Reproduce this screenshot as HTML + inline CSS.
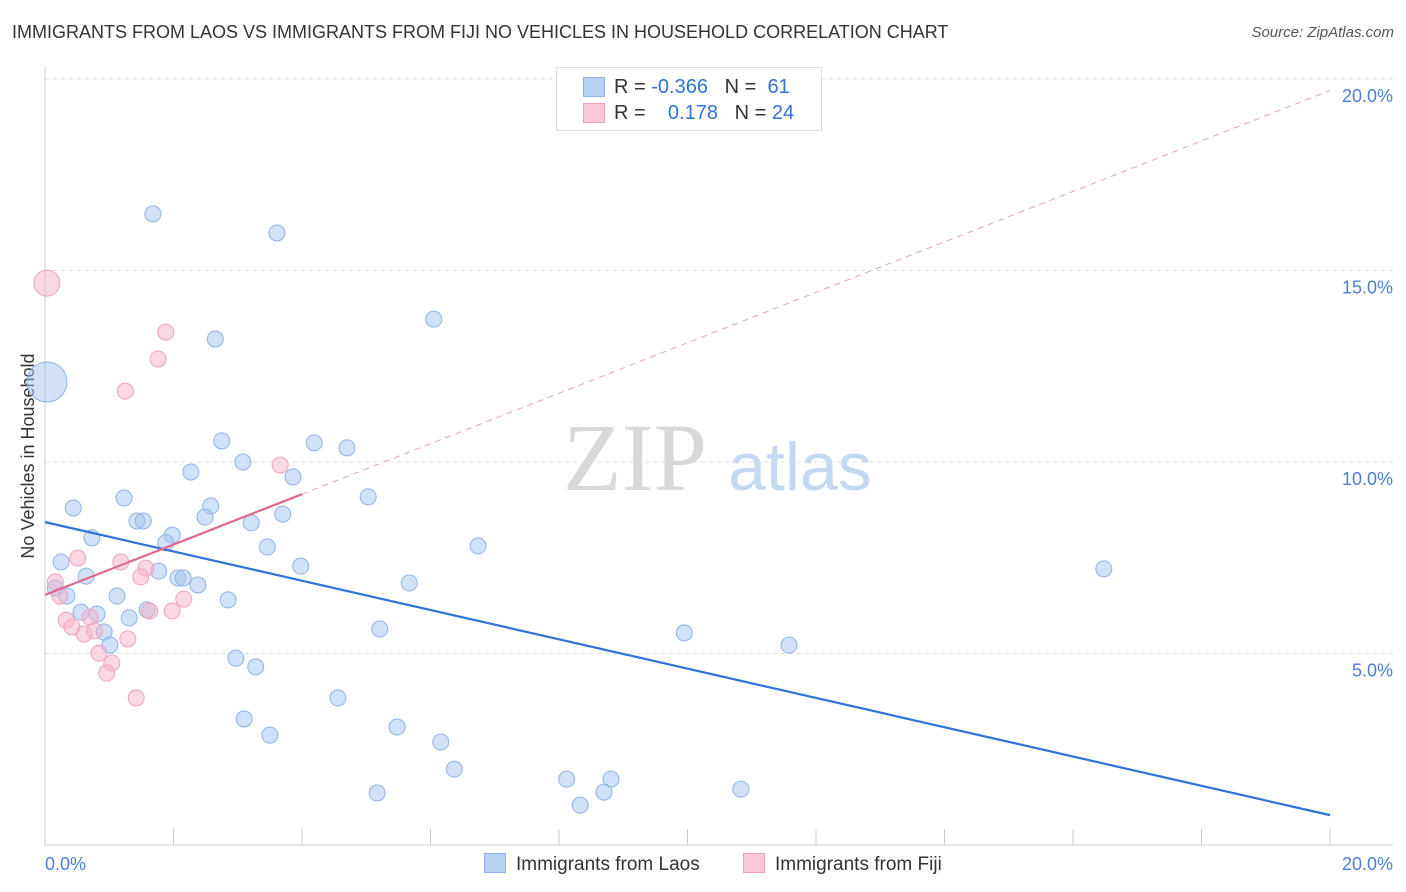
<!DOCTYPE html>
<html><head><meta charset="utf-8"><style>
body{margin:0;background:#fff;font-family:"Liberation Sans",sans-serif;}
#wrap{position:relative;width:1406px;height:892px;overflow:hidden;}
.t{position:absolute;white-space:nowrap;}
</style></head><body>
<div id="wrap">
<div class="t" style="left:12px;top:22px;font-size:18px;color:#333;">IMMIGRANTS FROM LAOS VS IMMIGRANTS FROM FIJI NO VEHICLES IN HOUSEHOLD CORRELATION CHART</div>
<div class="t" style="right:12px;top:24px;font-size:15px;color:#555;font-style:italic;">Source: ZipAtlas.com</div>
<svg id="svg" width="1406" height="892" style="position:absolute;left:0;top:0"></svg>
</div>
<script>
const yTicks=[5,10,15,20];
const yTickLabels=["5.0%","10.0%","15.0%","20.0%"];
const xTickLabels=["0.0%","20.0%"];
const laosX=[1.68,3.61,2.65,6.05,0.03,2.75,3.08,4.19,4.70,2.27,3.86,1.23,5.03,0.44,2.58,2.49,1.43,1.53,3.21,3.70,0.73,1.98,1.88,3.46,6.74,0.25,0.64,1.77,3.98,2.07,2.15,2.38,5.67,0.16,0.34,1.12,2.85,0.56,0.81,1.59,1.31,0.92,1.01,5.21,9.95,11.58,16.48,2.97,3.28,4.56,3.10,3.50,5.48,6.16,6.37,8.12,8.81,8.70,8.33,5.17,10.83];
const laosY=[16.48,15.98,13.21,13.73,12.09,10.55,10.0,10.5,10.37,9.74,9.61,9.06,9.09,8.80,8.85,8.56,8.46,8.46,8.41,8.64,8.02,8.09,7.89,7.78,7.81,7.39,7.02,7.15,7.28,6.97,6.97,6.79,6.84,6.71,6.50,6.50,6.40,6.08,6.03,6.14,5.93,5.56,5.22,5.64,5.54,5.22,7.21,4.88,4.65,3.84,3.29,2.87,3.08,2.69,1.98,1.72,1.72,1.38,1.04,1.36,1.46];
const fijiX=[0.03,1.88,1.76,1.25,3.66,0.51,1.18,1.57,1.49,0.16,0.23,2.16,1.63,1.98,0.70,0.33,0.42,0.77,0.61,1.29,0.84,1.04,0.96,1.42];
const fijiY=[14.67,13.39,12.69,11.85,9.92,7.49,7.39,7.23,7.00,6.87,6.50,6.42,6.11,6.11,5.95,5.87,5.69,5.59,5.51,5.38,5.01,4.75,4.49,3.84];
const laosTrend=[8.43,0.78];
const fijiTrend=[6.53,9.16,19.7];
const X=v=>45+v*64.25, Y=v=>845-v*38.3;
const NS="http://www.w3.org/2000/svg",svg=document.getElementById("svg");
function mk(tag,attrs,parent){const e=document.createElementNS(NS,tag);for(const k in attrs)e.setAttribute(k,attrs[k]);(parent||svg).appendChild(e);return e;}
// watermark
let w=mk("text",{x:635,y:490,"font-size":96,"font-family":"Liberation Serif,serif",fill:"#d8d8d8","text-anchor":"middle"});w.textContent="ZIP";


let w2=mk("text",{x:800,y:490,"font-size":68,"font-family":"Liberation Sans,sans-serif",fill:"#c5d8f2","text-anchor":"middle"});w2.textContent="atlas";


// grid
let g=mk("line",{x1:45,x2:1393,y1:79,y2:79,stroke:"#ddd","stroke-dasharray":"4,4"});


yTicks.forEach((t,i)=>{
 let l=mk("line",{x1:45,x2:1393,y1:Y(t),y2:Y(t),stroke:"#ddd","stroke-dasharray":"4,4"});
 
 
 let tx=mk("text",{x:1393,y:Y(t)+23,"font-size":18,fill:"#4a7fd4","text-anchor":"end"});tx.textContent=yTickLabels[i];
 
 
});
let ax=mk("line",{x1:45,x2:1393,y1:845,y2:845,stroke:"#ccc"});


let ay=mk("line",{x1:45,x2:45,y1:67,y2:845,stroke:"#ccc"});


for(let i=0;i<=10;i++){let tk=mk("line",{x1:X(i*2),x2:X(i*2),y1:829,y2:845,stroke:"#ccc"});
 
 }
[[0,"start",45],[1,"end",1393]].forEach(([i,a,x])=>{let t=mk("text",{x:x,y:870,"font-size":18,fill:"#4a7fd4","text-anchor":a});t.textContent=xTickLabels[i];
 
 });
let yt=mk("text",{x:0,y:0,"font-size":18,fill:"#333","text-anchor":"middle",transform:"translate(34,456) rotate(-90)"});yt.textContent="No Vehicles in Household";


// points
function pts(xs,ys,fill,stroke,name){xs.forEach((x,i)=>{let r=8;if(x<0.1&&ys[i]>12)r=name=="laos"?20:13;
 let c=mk("circle",{cx:X(x),cy:Y(ys[i]),r:r,fill:fill,stroke:stroke,"stroke-width":1});
 
 });}
pts(laosX,laosY,"rgba(164,196,240,0.5)","#8fb3e6","laos");
pts(fijiX,fijiY,"rgba(246,178,200,0.5)","#eea3bb","fiji");
let bl=mk("line",{x1:X(0),y1:Y(laosTrend[0]),x2:X(20),y2:Y(laosTrend[1]),stroke:"#2f72d8","stroke-width":2.2});


let pd=mk("line",{x1:X(4),y1:Y(fijiTrend[1]),x2:X(20),y2:Y(fijiTrend[2]),stroke:"#e8a0b8","stroke-width":1,"stroke-dasharray":"6,5"});


let pl=mk("line",{x1:X(0),y1:Y(fijiTrend[0]),x2:X(4),y2:Y(fijiTrend[1]),stroke:"#e06690","stroke-width":2.2});


</script>
<div style="position:absolute;left:556px;top:67px;width:264px;height:62px;border:1px solid #ddd;background:#fff;font-size:20px;color:#333;">
 <div style="position:absolute;left:26px;top:9px;width:20px;height:18px;background:#b8d2f4;border:1px solid #8fb3e6;"></div>
 <div class="t" style="left:57px;top:8px;">R = <span style="color:#2f72d8">-0.366</span>&nbsp;&nbsp;&nbsp;N = &nbsp;<span style="color:#2f72d8">61</span></div>
 <div style="position:absolute;left:26px;top:35px;width:20px;height:18px;background:#f9c9d8;border:1px solid #eea3bb;"></div>
 <div class="t" style="left:57px;top:34px;">R = &nbsp;&nbsp;&nbsp;<span style="color:#2f72d8">0.178</span>&nbsp;&nbsp;&nbsp;N = <span style="color:#2f72d8">24</span></div>
</div>
<div style="position:absolute;left:484px;top:853px;font-size:19px;color:#333;">
 <span style="position:absolute;left:0;top:0;white-space:nowrap;"><span style="display:inline-block;width:20px;height:18px;background:#b8d2f4;border:1px solid #8fb3e6;vertical-align:-3px;margin-right:10px;"></span>Immigrants from Laos</span>
 <span style="position:absolute;left:259px;top:0;white-space:nowrap;"><span style="display:inline-block;width:20px;height:18px;background:#f9c9d8;border:1px solid #eea3bb;vertical-align:-3px;margin-right:10px;"></span>Immigrants from Fiji</span>
</div>
</body></html>
